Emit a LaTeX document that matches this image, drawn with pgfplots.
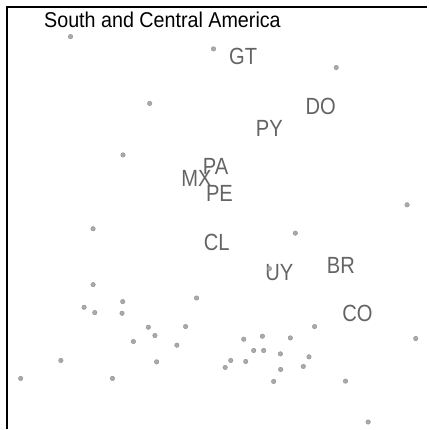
\documentclass[border=0pt]{standalone}
\usepackage{pgfplots}
\pgfplotsset{compat=1.18}
\usepackage{fontspec}
\setmainfont{Liberation Sans}
\newfontfamily\labfont[FakeStretch=0.86]{Liberation Sans}
\newfontfamily\titfont[FakeStretch=0.92]{Liberation Sans}
\definecolor{ptfill}{RGB}{170,170,170}
\definecolor{ptdraw}{RGB}{145,145,145}
\definecolor{labcol}{RGB}{100,100,100}
\begin{document}
\begin{tikzpicture}
\begin{axis}[
  width=321pt, height=322.5pt, scale only axis,
  xmin=0, xmax=428, ymin=-430, ymax=0,
  hide axis, clip=false,
]
\path (rel axis cs:0,0) rectangle (rel axis cs:1,1);
\addplot[only marks, mark=*, mark size=1.7pt, mark options={fill=ptfill, draw=ptdraw, line width=0.3pt}] coordinates {
(70.7,-36.7) (214,-49) (337,-67.7) (150,-103.7)
(123.3,-155.3) (408,-205.3) (93.3,-229.3) (296,-233.7) (93.3,-285.3) (270,-269.3)
(84.3,-308) (123,-302.3) (197,-298.7) (95,-313.3) (122.3,-314)
(148.7,-328) (186,-327.3) (155.3,-336.3) (133.7,-342.3) (177.3,-346)
(61,-361.3) (157,-362.7) (20.7,-379.3) (112.7,-379.3)
(315.3,-327.3) (244.3,-340) (263,-337) (291,-338.7) (416.7,-339.3)
(254.3,-351.3) (264.3,-351.3) (281,-354.7) (309.7,-357.7)
(231.3,-361.3) (246.3,-362.3) (225.7,-368.3) (281.3,-370.3) (304,-367.3)
(274.3,-382.3) (346.3,-382) (369,-423)
};
\draw[line width=1.5pt, black] (axis cs:7,-430) -- (axis cs:7,-7.5) -- (axis cs:428,-7.5);
\node[anchor=base west, inner sep=0pt, font=\titfont\fontsize{16.1pt}{18pt}\selectfont] at (axis cs:44,-27.5) {South and Central America};
\begin{scope}[every node/.style={anchor=base, inner sep=0pt, text=labcol, font=\labfont\fontsize{17.6pt}{20pt}\selectfont}]
\node at (axis cs:243.7,-65) {GT};
\node at (axis cs:321.5,-115) {DO};
\node at (axis cs:270,-136.5) {PY};
\node at (axis cs:216,-175) {PA};
\node at (axis cs:197,-186.5) {MX};
\node at (axis cs:220,-202) {PE};
\node at (axis cs:217.3,-251.5) {CL};
\node at (axis cs:280,-281) {UY};
\node at (axis cs:341.7,-274) {BR};
\node at (axis cs:358.3,-322.5) {CO};
\end{scope}
\end{axis}
\end{tikzpicture}
\end{document}
